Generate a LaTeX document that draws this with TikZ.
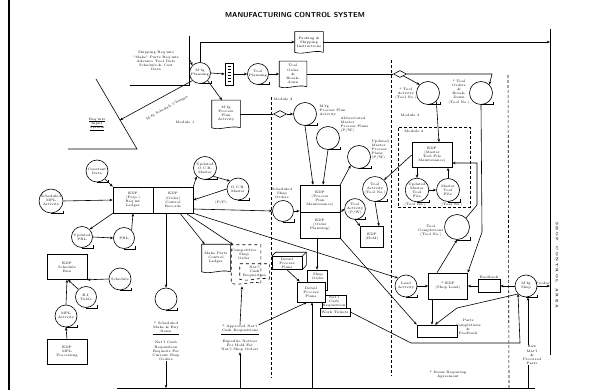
\documentclass[tikz,border=0pt]{standalone}
\usepackage{amsmath,amssymb}
\usetikzlibrary{calc,arrows.meta,shapes.geometric}

\tikzset{
  lbl/.style={font=\fontsize{3.4}{4.1}\selectfont, align=center, inner sep=0.3pt},
  tapec/.style={circle, draw, inner sep=0pt, lbl},
  ebox/.style={draw, lbl, fill=white, inner sep=0.5pt},
  flow/.style={-{Stealth[length=3.2pt,width=2.6pt]}},
  modline/.style={dash pattern=on 3pt off 2pt},
  dia/.style={draw, diamond, aspect=2, minimum width=13pt, minimum height=7pt, inner sep=0pt},
}

% tape symbol: name, size, position, text
\newcommand{\tape}[4]{%
  \node[tapec, minimum size=#2pt] (#1) at (#3) {#4};
  \draw (#1.south) -- (#1.south -| #1.east) -- ++(0,-2.5);}

% document symbol: [line style] name, width, height, position, text
\newcommand{\docu}[6][]{%
  \node[lbl, minimum width=#3pt, minimum height=#4pt] (#2) at (#5) {#6};
  \draw[#1] (#2.south east) -- (#2.north east) -- (#2.north west) -- (#2.south west)
    .. controls +(#3*0.3,3) and +(-#3*0.3,-3) .. (#2.south east);}

\begin{document}
\begin{tikzpicture}[x=1pt, y=-1pt, line width=0.6pt]
	\useasboundingbox (0,0) rectangle (591,390);
	\draw[line width=2.6pt] (9,0) -- (9,390);
	\node[font=\sffamily\bfseries\fontsize{7.2}{8}\selectfont] (title) at (295,15) {MANUFACTURING CONTROL SYSTEM};

	% input side
	\node[lbl] (shipreq) at (156,61) {Shipping Req'mts\\``Make'' Parts Req'mts\\Advance Tool Date\\Schedule \& Cost\\Data};
	\coordinate (s1) at (130,85);
	\coordinate (s2) at (189,85);
	\coordinate (s3) at (189,36);
	\coordinate (s4) at (189,58);
	\draw (s1) -- (s2) -- (s3);
	\coordinate (v1) at (96,79);
	\coordinate (v2) at (137,149);
	\coordinate (v3) at (68,149);
	\coordinate (chg) at (120,120);
	\draw (v1) -- (v2) -- (v3);
	\node[lbl] (reqin) at (97,124) {\underline{Req'mts}\\\underline{Input}\\\underline{System}};
	\node[lbl] (mod1) at (185,122) {Module 1};

	% planning row
	\tape{mfgplan}{21}{200,73}{M'fg\\Planning}
	\draw[flow] (s4) -- (mfgplan.north west);
	\draw[flow] (mfgplan.south west) -- (chg);
	\node[lbl, rotate=29] (chgl) at (167,108) {M'fg Schedule Changes};
	\docu{packing}{28}{20}{309,42}{Packing \&\\Shipping\\Instructions}
	\draw[flow] (mfgplan.north) |- (packing.west);
	\coordinate (railtop) at (550,29);
	\coordinate (railbot) at (550,355);
	\draw (railtop) -- (railbot);
	\node[lbl, rotate=-90, font=\fontsize{3.4}{4}\selectfont\bfseries] (railtxt) at (557,265) {S H O P \ \ C O N T R O L \ \ A R E A};
	\draw[flow] (packing.east) -- (packing.east -| railtop);
	\node[draw, minimum width=8pt, minimum height=22pt, inner sep=0pt] (cards) at (229,74) {};
	\foreach \k in {0,...,5}
		\draw[line width=0.3pt] ($(cards.north)+(-1.5,3+3*\k)$) -- ++(3,0);
	\draw[flow] (mfgplan.east) -- (cards.west);
	\tape{toolplan}{21}{258,74}{Tool\\Planning}
	\draw[flow] (cards.east) -- (toolplan.west);
	\docu{toolorder}{27}{25}{293,74}{Tool\\Order\\\&\\Break-\\down}
	\draw[flow] (toolplan.east) -- (toolorder.west);
	\node[dia] (dia2) at (400,74) {};
	\coordinate (tk) at (492,74);
	\draw (toolorder.east) -- (dia2.west);
	\tape{toolact}{23}{428,93}{}
	\node[lbl, anchor=east] (toolactl) at (417,94) {* Tool\\Activity\\(Tool No.)};
	\tape{toolord}{23}{481,93}{}
	\node[lbl] (toolordl) at (459,92) {* Tool\\Orders\\\&\\Break-\\Down\\(Tool No.)};
	\draw[flow] (dia2.east) -- (tk) -- (toolord.north east);
	\draw[flow] (dia2.south east) -- (toolact.north west);
	\node[lbl] (mod3) at (410,115) {Module 3};

	% process plans
	\docu{mppadoc}{28}{27}{226,114}{M'fg\\Process\\Plan\\Activity}
	\draw[flow] (mfgplan.south east) -- ($(mppadoc.north)+(-4,0)$);
	\node[dia] (dia1) at (280,114) {};
	\tape{mppa}{23}{305,114}{}
	\node[lbl, anchor=west, align=left] (mppal) at (319,111) {M'fg\\Process Plan\\Activity};
	\draw (mppadoc.east) -- (dia1.west);
	\draw[flow] (dia1.east) -- (mppa.west);
	\node[lbl] (mod2) at (283,99) {Module 2};
	\tape{abbr}{23}{328,138}{}
	\node[lbl, anchor=west, align=left] (abbrl) at (340,125) {Abbreviated\\Master\\Process Plans\\(P/W)};
	\tape{updmpp}{23}{359,157}{}
	\node[lbl, anchor=west, align=left] (updmppl) at (371,150) {Updated\\Master\\Process\\Plans\\(P/W)};
	\node[ebox, minimum width=40pt, minimum height=27pt] (eppm) at (320,198.5) {EDP\\(Process\\Plan\\Maintenance)};
	\node[ebox, minimum width=40pt, minimum height=26pt] (eop) at (320,225) {EDP\\(Order\\Planning)};
	\draw[flow] (mppa.south) -- ($(eppm.north)+(-7,0)$);
	\draw[flow] (abbr.south) -- ($(eppm.north)+(3,0)$);
	\draw[flow] (eppm.north east) -- (updmpp.south west);
	\tape{schedshop}{21}{283,211}{}
	\node[lbl, anchor=south] (schedshopl) at ($(schedshop.north)+(-1,-1)$) {Scheduled\\Shop\\Orders};
	\draw[flow] (schedshop.east) -- (schedshop.east -| eppm.west);
	\tape{tapw}{20}{355,209}{Tool\\Activity\\(P/W)}
	\tape{tatn}{21}{375,189}{Tool\\Activity\\(Tool No.)}
	\node[ebox, minimum width=23pt, minimum height=21pt] (edpbom) at (372,237) {EDP\\(BoM)};
	\draw[flow] (eppm.south east) -- (tapw.west);
	\draw[flow] (tapw.south) -- (edpbom.north west);
	\draw[flow] (tatn.south) -- ($(edpbom.north)+(7,0)$);

	% module 4
	\node[draw, modline, minimum width=72pt, minimum height=80pt] (mod4) at (434,167) {};
	\node[lbl, anchor=north west] (mod4l) at ($(mod4.north west)+(6,3)$) {Module 4};
	\node[ebox, minimum width=40pt, minimum height=25pt] (mtfm) at (432,155) {EDP\\(Master\\Tool File\\Maintenance)};
	\tape{umtf}{23}{417,190}{Updated\\Master\\Tool\\File}
	\tape{mtf}{23}{448,190}{Master\\Tool\\File}
	\node[lbl] (umtfl) at (415,204.5) {(Tool No.)};
	\node[lbl] (mtfl) at (452,204.5) {(Tool No.)};
	\draw[flow] (mtfm.south -| umtf) -- (umtf.north);
	\draw[flow] (mtf.north) -- (mtfm.south -| mtf);
	\draw[flow] (umtf.east) -- (mtf.west);
	\draw[flow] (toolact.south east) -- ($(mtfm.north)+(7,0)$);
	\draw[flow] (mtfm.west) -- (tatn.north east);

	% shop load
	\tape{toolcomp}{25}{457,227}{}
	\node[lbl, anchor=east] (toolcompl) at (444,231) {Tool\\Completions\\(Tool No.)};
	\coordinate (tc1) at (477,205);
	\coordinate (tc2) at (477,163);
	\draw[flow] (toolcomp.north east) -- (tc1) -- (tc2) -- (tc2 -| mtfm.east);
	\node[ebox, minimum width=39pt, minimum height=26pt] (shopload) at (448,286) {* EDP\\(Shop Load)};
	\coordinate (to1) at (482,232);
	\draw[flow] (toolord.south) -- (to1) -- (shopload.north east);
	\draw[flow] ($(shopload.north)+(-11,0)$) -- (toolcomp.south);
	\tape{loadact}{22}{406,286}{Load\\Activity}
	\draw[flow] (loadact.east) -- (shopload.west);
	\node[draw, minimum width=22pt, minimum height=13pt] (feedback) at (489,286) {};
	\node[lbl, above] (feedbackl) at (feedback.north) {Feedback};
	\tape{mfgshop}{22}{526,286}{M'fg\\Shop}
	\draw[flow] (mfgshop.west) -- (feedback.east);
	\draw[flow] (feedback.west) -- (shopload.east);
	\draw[flow] (mfgshop.east) -- node[lbl, above=0.5pt] {Product} (mfgshop.east -| railtop);
	\node[draw, minimum width=40pt, minimum height=12pt] (parts) at (437,331) {};
	\node[lbl, anchor=west] (partsl) at (455,327) {Parts\\Completions\\\&\\Feedback};
	\coordinate (ms1) at (457,308);
	\draw[flow] (mfgshop.south west) -- (ms1) -- ($(parts.north)+(-2,0)$);
	\draw[flow] ($(shopload.south)+(-16,0)$) -- ($(parts.north)+(-5,0)$);

	% left ledgers
	\tape{constdata}{22}{97,171}{Constant\\Data}
	\tape{schedmpl}{23}{51,201}{Scheduled\\MPL\\Activity}
	\node[ebox, minimum width=40pt, minimum height=26pt] (ledger) at (133,200) {EDP\\(Perp.)\\Req'mt\\Ledger};
	\node[ebox, minimum width=40pt, minimum height=26pt] (ctrlrec) at (173,200) {EDP\\(Order)\\Control\\Records};
	\draw[flow] (schedmpl.east) -- (ledger.west);
	\draw[flow] (constdata.south east) -- (ledger.north west);
	\tape{updprl}{21}{82,237}{Updated\\PRL}
	\tape{prl}{21}{124,238}{PRL}
	\draw[flow] (ledger.south west) -- (updprl.north east);
	\draw[flow] (updprl.east) -- (prl.west);
	\draw[flow] (prl.north east) -- (ledger.south);
	\tape{updocr}{23}{205,168}{Updated\\O.C.R.\\Master}
	\tape{ocr}{22}{238,189}{O.C.R.\\Master}
	\node[lbl] (ocrl) at (221,203) {(P/P)};
	\draw[flow] (ctrlrec.north east) -- (updocr.south west);
	\draw[flow] (updocr.south east) -- (ocr.north west);
	\draw[flow] (ocr.west) -- (ctrlrec.east);
	\draw[flow] ($(ctrlrec.east)+(0,9)$) -- (schedshop.west);
	\draw[flow] (ctrlrec.south east) -- (loadact.north west);
	\draw[flow] (eop.south east) -- (parts.north west);

	% schedule run
	\node[ebox, minimum width=40pt, minimum height=25pt] (schedrun) at (67,267) {EDP\\Schedule\\Run};
	\tape{schedule}{22}{120,279}{Schedule}
	\draw[flow] (schedule.west) -- (schedrun.south east);
	\tape{eitable}{21}{86,297}{E.I.\\Table}
	\draw[flow] (eitable.north west) -- ($(schedrun.south)+(1,0)$);
	\tape{mplact}{22}{66,316}{MPL\\Activity}
	\draw[flow] (mplact.north) -- (schedrun.south);
	\node[ebox, minimum width=40pt, minimum height=25pt] (mplproc) at (67,352) {EDP\\MPL\\Processing};
	\draw[flow] (mplproc.north) -- (mplact.south);

	% shop orders
	\coordinate (b0) at (117,388);
	\coordinate (b1) at (535,388);
	\draw (b0) -- (b1);
	\tape{makebuy}{22}{166,299}{}
	\draw[flow] (ctrlrec.south -| makebuy) -- (makebuy.north);
	\node[lbl] (mbtxt) at (166,327) {* Scheduled\\Make \& Buy\\Items};
	\draw ($(mbtxt.south west)+(0,1.5)$) -- ($(mbtxt.south east)+(0,1.5)$);
	\node[lbl] (ncrtxt) at (166,351) {Nat'l Cash\\Requisition\\Requests For\\Current Shop\\Orders};
	\draw[flow] (ncrtxt.south) -- (ncrtxt.south |- b0);
	\docu{makeparts}{28}{27}{216,258}{Make Parts\\Control\\Ledger}
	\docu[dashed]{compshop}{29}{38}{246,264}{}
	\node[lbl] (compshopl) at (244,254) {Competitive\\Shop\\Order};
	\docu[dashed]{ncr1}{29}{15}{254.5,271.5}{Nat'l\\Cash\\Requisition}
	\draw[flow] ($(ctrlrec.south)+(7,0)$) -- ($(makeparts.north west)+(3,0)$);
	\draw[flow] ($(ctrlrec.south)+(13,0)$) -- ($(compshop.north west)+(2,0)$);
	\node[lbl] (apptxt) at (240,329) {* Approved Nat'l\\Cash Requisitions};
	\draw ($(apptxt.south west)+(0,1.5)$) -- ($(apptxt.south east)+(0,1.5)$);
	\node[lbl] (exptxt) at (240,346) {Expedite Notices\\For Hold For\\Nat'l Shop Orders};
	\draw[flow] (apptxt.north) -- ($(compshop.south)+(-4,3)$);
	\draw[flow] (exptxt.south |- b0) -- (exptxt.south);

	% detail process plans
	\node[draw, lbl, fill=white, minimum width=30pt, minimum height=13pt] (dpp3d) at (287,263) {Detail\\Process\\Plans};
	\draw (dpp3d.north west) -- ++(4,-4) -- ($(dpp3d.north east)+(4,-4)$) -- ++(0,13) -- (dpp3d.south east);
	\draw (dpp3d.north east) -- ++(4,-4);
	\node[draw, minimum width=20pt, minimum height=20pt] (shoporder) at (317,280) {};
	\node[lbl] (shoporderl) at (318,276) {Shop\\Order};
	\node[ebox, minimum width=22pt, minimum height=14pt] (ncr2) at (334,302) {Nat'l\\Cash\\Requisition};
	\node[ebox, minimum width=28pt, minimum height=20pt] (dppbox) at (311,292) {Detail\\Process\\Plans};
	\node[ebox, minimum width=30pt, minimum height=8pt] (worktix) at (335,312) {Work Tickets};
	\draw[flow] (eop.south -| shoporder) -- (shoporder.north);
	\draw[flow] (dpp3d.south) -- ($(dppbox.north west)+(3,0)$);
	\draw[flow] (apptxt.north east) -- ($(dppbox.south)+(-4,0)$);
	\coordinate (bx2) at (312,388);
	\draw[flow] (bx2) -- (bx2 |- dppbox.south);
	\coordinate (wt1) at (411,343);
	\coordinate (wt2) at (520,343);
	\draw[flow] (worktix.east) -- (wt1) -- (wt2) -- (mfgshop.south west);
	\coordinate (rm) at (528,388);
	\draw[flow] (rm) -- (rm |- mfgshop.south);
	\node[lbl, fill=white] (rawl) at (532,355) {Raw\\Mat'l\\\&\\Procured\\Parts};
	\node[lbl] (itemsl) at (448,375) {* Items Requiring\\Agreement};

	% module boundaries
	\draw[modline] (271,97) -- (271,378);
	\draw[modline] (391,60) -- (391,376);
	\draw[modline] (508,75) -- (509,388);
\end{tikzpicture}
\end{document}
